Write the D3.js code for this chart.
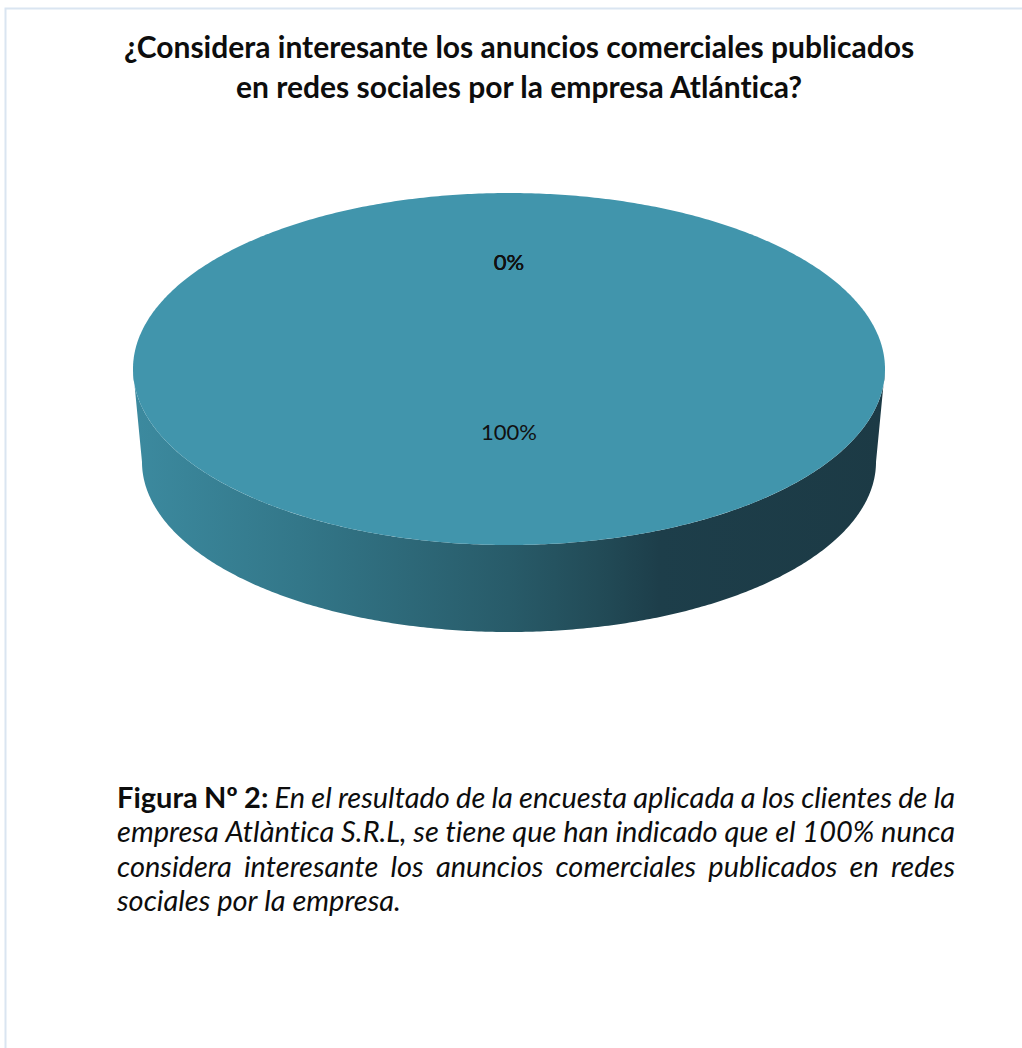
<!DOCTYPE html>
<html>
<head>
<meta charset="utf-8">
<script src="https://cdn.jsdelivr.net/npm/d3@7"></script>
<style>
body { margin: 0; background: #fff; }
text { font-variant-ligatures: none; }
</style>
</head>
<body>
<div id="content"></div>
<script>
// survey answers (one slice each)
var categories = ["Siempre", "Casi siempre", "A veces", "Nunca"];
var values = [0, 0, 0, 100];

var titleLines = [
    "¿Considera interesante los anuncios comerciales publicados",
    "en redes sociales por la empresa Atlántica?"
];
var captionHead = "Figura Nº 2:";
var captionLines = [
    "En el resultado de la encuesta aplicada a los clientes de la",
    "empresa Atlàntica S.R.L, se tiene que han indicado que el 100% nunca",
    "considera interesante los anuncios comerciales publicados en redes",
    "sociales por la empresa."
];

var w = 1022,
    h = 1048;

// 3d pie geometry
var cx = 509, cy = 369,
    rx = 376, ry = 176,     // top ellipse
    bx = 367, by = 170,     // bottom ellipse (a bit smaller, perspective)
    depth = 93;

var font = "Lato, 'Open Sans', sans-serif";

var svg = d3.select("#content")
    .append("svg")
    .attr("width", w)
    .attr("height", h);

// light frame
svg.append("path")
    .attr("d", "M5.5," + h + "V8.5H" + w)
    .attr("fill", "none")
    .attr("stroke", "#dae5f1")
    .attr("stroke-width", 2);

// title
svg.append("g").selectAll("text")
    .data(titleLines)
    .enter().append("text")
    .attr("x", 519)
    .attr("y", function(d, i) { return 58 + i * 40; })
    .attr("text-anchor", "middle")
    .style("font-family", font)
    .style("font-weight", "bold")
    .style("font-size", "30px")
    .style("fill", "#0d0d0d")
    .text(function(d) { return d; });

var defs = svg.append("defs");
var grad = defs.append("linearGradient")
    .attr("id", "side")
    .attr("gradientUnits", "userSpaceOnUse")
    .attr("x1", cx - rx).attr("x2", cx + rx)
    .attr("y1", 0).attr("y2", 0);
[[0, "#3c8a9f"], [0.22, "#337789"], [0.5, "#285b69"], [0.62, "#224b57"],
 [0.7, "#1d3e4a"], [1, "#1c3a45"]].forEach(function(s) {
    grad.append("stop").attr("offset", s[0]).attr("stop-color", s[1]);
});

var pie = d3.pie().sort(null);
var slices = pie(values);

function topPt(a, f) {
    return [cx + rx * f * Math.sin(a), cy - ry * f * Math.cos(a)];
}
function botPt(a) {
    return [cx + bx * Math.sin(a), cy + depth - by * Math.cos(a)];
}
function sample(a0, a1) {
    var n = Math.max(2, Math.ceil((a1 - a0) / 0.01));
    return d3.range(n + 1).map(function(i) { return a0 + (a1 - a0) * i / n; });
}
var line = d3.line();

// side walls: only the front half (pi/2 .. 3pi/2) is seen
svg.append("g").selectAll("path")
    .data(slices.filter(function(d) {
        return Math.min(d.endAngle, 1.5 * Math.PI) > Math.max(d.startAngle, 0.5 * Math.PI);
    }))
    .enter().append("path")
    .attr("d", function(d) {
        var a0 = Math.max(d.startAngle, 0.5 * Math.PI),
            a1 = Math.min(d.endAngle, 1.5 * Math.PI);
        var angs = sample(a0, a1);
        var pts = angs.map(function(a) { return topPt(a, 1); })
            .concat(angs.slice().reverse().map(botPt));
        return line(pts) + "Z";
    })
    .attr("fill", "url(#side)");

// top faces
svg.append("g").selectAll("path")
    .data(slices.filter(function(d) { return d.endAngle > d.startAngle; }))
    .enter().append("path")
    .attr("d", function(d) {
        var pts = sample(d.startAngle, d.endAngle).map(function(a) { return topPt(a, 1); });
        if (d.endAngle - d.startAngle < 2 * Math.PI - 1e-6) pts.unshift([cx, cy]);
        return line(pts) + "Z";
    })
    .attr("fill", "#4195ac");

// data labels
svg.append("g").selectAll("text")
    .data(slices)
    .enter().append("text")
    .attr("transform", function(d) {
        var a = (d.startAngle + d.endAngle) / 2;
        var p = topPt(a, d.value ? 0.36 : 0.61);
        return "translate(" + p + ")";
    })
    .attr("dy", "0.36em")
    .attr("text-anchor", "middle")
    .style("font-family", font)
    .style("font-size", "22px")
    .style("fill", "#111")
    .text(function(d) { return d3.format(".0%")(d.value / d3.sum(values)); });

// caption, justified word by word
var capX0 = 117, capX1 = 955, capY = 808, capStep = 34.3, capSize = 29;
var cap = svg.append("g")
    .style("font-family", font)
    .style("font-size", capSize + "px")
    .style("fill", "#0d0d0d");

function measure(txt, bold, italic) {
    var t = cap.append("text")
        .style("font-weight", bold ? "bold" : "normal")
        .style("font-style", italic ? "italic" : "normal")
        .text(txt);
    var l = t.node().getComputedTextLength();
    t.remove();
    return l;
}

captionLines.forEach(function(ln, i) {
    var words = ln.split(" ").map(function(t) { return {t: t, b: false}; });
    if (i == 0) {
        words = captionHead.split(" ").map(function(t) { return {t: t, b: true}; }).concat(words);
    }
    words.forEach(function(wd) { wd.w = measure(wd.t, wd.b, !wd.b); });
    var total = d3.sum(words, function(wd) { return wd.w; });
    var gap = i < captionLines.length - 1 ?
        (capX1 - capX0 - total) / (words.length - 1) :
        measure("a a", false, true) - measure("aa", false, true);
    var x = capX0;
    words.forEach(function(wd) {
        cap.append("text")
            .attr("x", x)
            .attr("y", capY + i * capStep)
            .style("font-weight", wd.b ? "bold" : "normal")
            .style("font-style", wd.b ? "normal" : "italic")
            .text(wd.t);
        x += wd.w + gap;
    });
});
</script>
</body>
</html>
